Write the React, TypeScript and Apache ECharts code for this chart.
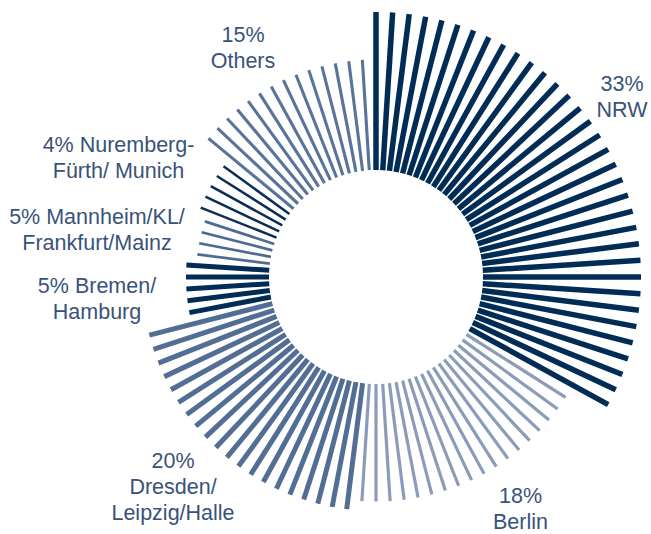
import React, { useEffect, useRef } from "react";
import * as echarts from "echarts";

// Regions in clockwise order from 12 o'clock
const regions = ["NRW", "Berlin", "Dresden/Leipzig/Halle", "Bremen/Hamburg", "Mannheim/KL/Frankfurt/Mainz", "Nuremberg-Fürth/Munich", "Others"];
// Number of spokes drawn for each region (one spoke ≈ 1 %)
const spokeCounts = [34, 18, 20, 5, 4, 5, 14];
// Length of each region's spokes beyond the inner hole
const spokeLengths = [158, 117.5, 127, 83, 73, 81.5, 110.5];
// Label texts
const labelTexts = [
  "33%\nNRW",
  "18%\nBerlin",
  "20%\nDresden/\nLeipzig/Halle",
  "5% Bremen/\nHamburg",
  "5% Mannheim/KL/\nFrankfurt/Mainz",
  "4% Nuremberg-\nFürth/ Munich",
  "15%\nOthers",
];

// styles
const colors = ["#002c55", "#8a9cb8", "#536e94", "#002c55", "#506b92", "#0a2d54", "#5a7399"];
const widths = [5.5, 3.2, 5, 5, 2.7, 2.5, 3.1];
const labelPos = [
  [622, 97],
  [520.5, 509],
  [173, 487],
  [97, 299],
  [97, 229.5],
  [118.5, 158],
  [243, 48],
];

export default function App() {
  const ref = useRef<HTMLDivElement>(null);
  useEffect(() => {
    if (!ref.current) return;
    const chart = echarts.init(ref.current, null, { renderer: "svg" });
    const total = spokeCounts.reduce((a, b) => a + b, 0);
    const data: number[][] = [];
    let idx = 0;
    spokeCounts.forEach((c, g) => {
      for (let j = 0; j < c; j++) {
        data.push([spokeLengths[g], idx, g]);
        idx++;
      }
    });
    const maxLen = Math.max(...spokeLengths);
    chart.setOption({
      animation: false,
      polar: { center: [376, 277], radius: [107, 265] },
      angleAxis: {
        type: "value",
        min: 0,
        max: total,
        startAngle: 90,
        clockwise: true,
        show: false,
      },
      radiusAxis: { type: "value", min: 0, max: maxLen, show: false },
      series: [
        {
          type: "custom",
          coordinateSystem: "polar",
          data,
          renderItem: (params: any, api: any) => {
            const len = api.value(0);
            const a = api.value(1);
            const g = api.value(2);
            const p0 = api.coord([0, a]);
            const p1 = api.coord([len, a]);
            return {
              type: "line",
              shape: { x1: p0[0], y1: p0[1], x2: p1[0], y2: p1[1] },
              style: { stroke: colors[g], lineWidth: widths[g], lineCap: "butt" },
            };
          },
        },
      ],
      graphic: labelTexts.map((t, i) => ({
        type: "text",
        x: labelPos[i][0],
        y: labelPos[i][1],
        style: {
          text: t,
          font: '21.5px "Liberation Sans", Arial, sans-serif',
          lineHeight: 26,
          fill: "#38537a",
          textAlign: "center",
          textVerticalAlign: "middle",
        },
      })),
    });
    return () => chart.dispose();
  }, []);
  return (
    <div
      ref={ref}
      style={{ position: "fixed", left: 0, top: 0, width: 651, height: 534, background: "#fff" }}
    />
  );
}
